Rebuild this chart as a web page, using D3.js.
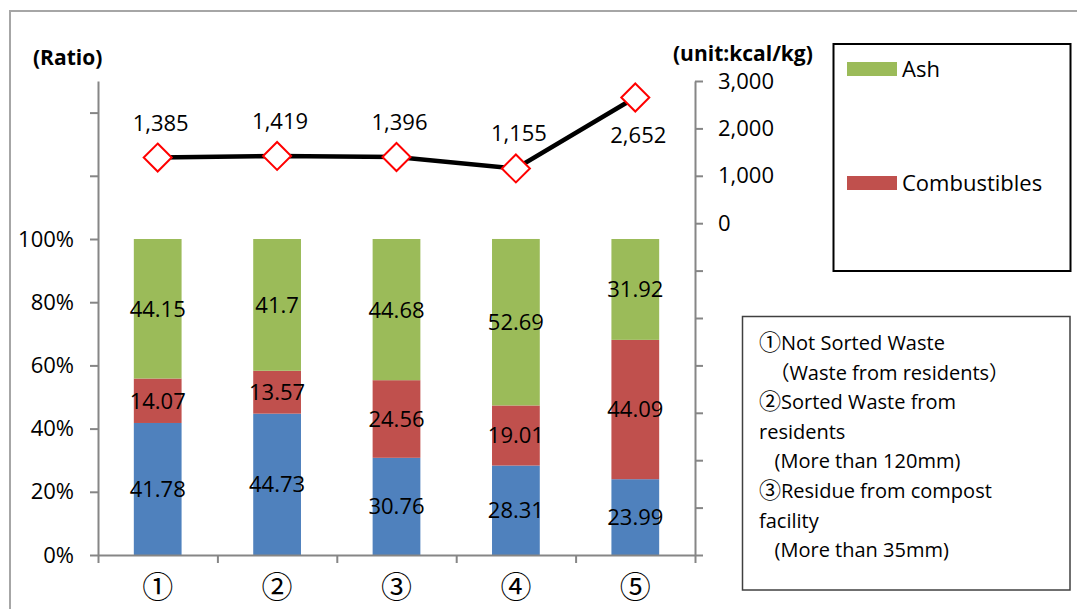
<!DOCTYPE html>
<html>
<head>
<meta charset="utf-8">
<script src="https://cdn.jsdelivr.net/npm/d3@7/dist/d3.min.js"></script>
<style>
  html, body { margin: 0; padding: 0; background: #fff; }
  svg { display: block; font-family: "Open Sans", "Noto Sans CJK JP", sans-serif; }
</style>
</head>
<body>
<svg id="chart" width="1077" height="609"></svg>
<script>
// Sample categories
const categories = ["①", "②", "③", "④", "⑤"];
// Composition (%) of each sample
const ashPct = [44.15, 41.7, 44.68, 52.69, 31.92];
const combustiblePct = [14.07, 13.57, 24.56, 19.01, 44.09];
const moisturePct = [41.78, 44.73, 30.76, 28.31, 23.99];
// Heating value (kcal/kg)
const calorific = [1385, 1419, 1396, 1155, 2652];
// Axis ticks
const ratioTicks = [0, 0.2, 0.4, 0.6, 0.8, 1.0, 1.2, 1.4];
const kcalTicks = [-7000, -6000, -5000, -4000, -3000, -2000, -1000, 0, 1000, 2000, 3000];
// Notes box lines
const noteLines = [
  "①Not Sorted Waste",
  "  （Waste from residents）",
  "②Sorted Waste from",
  "residents",
  "   (More than 120mm)",
  "③Residue from compost",
  "facility",
  "   (More than 35mm)"
];

const colors = { moisture: "#4F81BD", comb: "#C0504D", ash: "#9BBB59" };
const axisColor = "#868686";
const circled = /^[①②③④⑤]/;

const svg = d3.select("#chart");

// outer frame
svg.append("line").attr("x1", 10).attr("x2", 1077).attr("y1", 11).attr("y2", 11)
  .attr("stroke", "#a6a6a6").attr("stroke-width", 2);
svg.append("line").attr("x1", 10).attr("x2", 10).attr("y1", 10).attr("y2", 609)
  .attr("stroke", "#a6a6a6").attr("stroke-width", 2);

const plotL = 98, plotR = 695, plotT = 81, plotB = 555;

const x = d3.scaleBand().domain(categories).range([plotL, plotR])
  .paddingInner(0.6).paddingOuter(0.3);
const yL = d3.scaleLinear().domain([0, 1.5]).range([plotB, plotT]);
const yR = d3.scaleLinear().domain([-7000, 3000]).range([plotB, plotT]);
const xEdges = d3.scaleLinear().domain([0, categories.length]).range([plotL, plotR]);

// stacked bars
const rows = categories.map((c, i) => ({
  cat: c,
  segs: [
    { key: "moisture", v: moisturePct[i] },
    { key: "comb", v: combustiblePct[i] },
    { key: "ash", v: ashPct[i] }
  ]
}));
rows.forEach(r => {
  let acc = 0;
  r.segs.forEach(s => { s.y0 = acc; acc += s.v; s.y1 = acc; });
});

const barG = svg.append("g");
rows.forEach(r => {
  const g = barG.append("g");
  g.selectAll("rect").data(r.segs).join("rect")
    .attr("x", x(r.cat))
    .attr("width", x.bandwidth())
    .attr("y", s => yL(s.y1 / 100))
    .attr("height", s => yL(s.y0 / 100) - yL(s.y1 / 100))
    .attr("fill", s => colors[s.key]);
  g.selectAll("text").data(r.segs).join("text")
    .attr("x", x(r.cat) + x.bandwidth() / 2)
    .attr("y", s => yL((s.y0 + s.y1) / 200))
    .attr("dy", "0.36em")
    .attr("text-anchor", "middle")
    .attr("font-size", 22)
    .attr("fill", "#000")
    .text(s => String(s.v));
});

function styleAxis(g) {
  g.selectAll(".domain").attr("stroke", axisColor).attr("stroke-width", 2);
  g.selectAll(".tick line").attr("stroke", axisColor).attr("stroke-width", 2);
  g.selectAll(".tick text").attr("fill", "#000").attr("font-size", 22)
    .attr("font-family", "\"Open Sans\", \"Noto Sans CJK JP\", sans-serif");
}

// left axis (ratio)
svg.append("g").attr("transform", `translate(${plotL},0)`)
  .call(d3.axisLeft(yL).tickValues(ratioTicks).tickSize(8).tickSizeOuter(0)
    .tickPadding(16)
    .tickFormat(d => d <= 1.0001 ? Math.round(d * 100) + "%" : ""))
  .call(styleAxis);

// right axis (kcal/kg)
svg.append("g").attr("transform", `translate(${plotR},0)`)
  .call(d3.axisRight(yR).tickValues(kcalTicks).tickSize(8).tickSizeOuter(0)
    .tickPadding(15)
    .tickFormat(d => d >= 0 ? d3.format(",")(d) : ""))
  .call(styleAxis);

// bottom axis: category edges
svg.append("g").attr("transform", `translate(0,${plotB})`)
  .call(d3.axisBottom(xEdges).ticks(categories.length).tickSize(8).tickSizeOuter(0)
    .tickFormat(() => ""))
  .call(styleAxis);

// category labels
svg.append("g").attr("transform", `translate(0,${plotB})`)
  .call(d3.axisBottom(x).tickSize(0).tickPadding(21))
  .call(g => g.select(".domain").remove())
  .call(g => g.selectAll(".tick text").attr("font-size", 31).attr("fill", "#000")
    .attr("font-family", "\"Noto Sans CJK JP\", sans-serif").attr("font-weight", 400));

// heating value line
const pts = categories.map((c, i) => ({ c, v: calorific[i] }));
svg.append("path")
  .datum(pts)
  .attr("fill", "none")
  .attr("stroke", "#000")
  .attr("stroke-width", 4.5)
  .attr("d", d3.line().x(d => x(d.c) + x.bandwidth() / 2).y(d => yR(d.v)));

svg.append("g").selectAll("path").data(pts).join("path")
  .attr("transform", d => `translate(${x(d.c) + x.bandwidth() / 2},${yR(d.v)})`)
  .attr("d", "M0,-14L14,0L0,14L-14,0Z")
  .attr("fill", "#fff")
  .attr("stroke", "#FF0000")
  .attr("stroke-width", 2);

// value labels: above the marker, or below when the point sits near the top
svg.append("g").selectAll("text").data(pts).join("text")
  .attr("x", d => x(d.c) + x.bandwidth() / 2 + 3)
  .attr("y", d => yR(d.v) > 130 ? yR(d.v) - 27 : yR(d.v) + 46)
  .attr("text-anchor", "middle")
  .attr("font-size", 22)
  .attr("fill", "#000")
  .text(d => d3.format(",")(d.v));

// axis titles
svg.append("text").attr("x", 33).attr("y", 65).attr("font-size", 21)
  .attr("font-weight", "bold").text("(Ratio)");
svg.append("text").attr("x", 673).attr("y", 61).attr("font-size", 21)
  .attr("font-weight", "bold").text("(unit:kcal/kg)");

// legend
const legend = svg.append("g");
legend.append("rect").attr("x", 833.5).attr("y", 44).attr("width", 237).attr("height", 227)
  .attr("fill", "#fff").attr("stroke", "#000").attr("stroke-width", 2);
const legendItems = [
  { label: "Ash", key: "ash", y: 69 },
  { label: "Combustibles", key: "comb", y: 183 }
];
legendItems.forEach(it => {
  legend.append("rect").attr("x", 847).attr("y", it.y - 7).attr("width", 50).attr("height", 14)
    .attr("fill", colors[it.key]);
  legend.append("text").attr("x", 902).attr("y", it.y + 8).attr("font-size", 22)
    .attr("fill", "#000").text(it.label);
});

// notes box
const notes = svg.append("g");
notes.append("rect").attr("x", 742.5).attr("y", 316.5).attr("width", 327.5).attr("height", 273.5)
  .attr("fill", "#fff").attr("stroke", "#404040").attr("stroke-width", 1.5);
notes.selectAll("text").data(noteLines).join("text")
  .attr("x", 759)
  .attr("y", (d, i) => 350 + i * 29.6)
  .attr("font-size", 20)
  .attr("fill", "#000")
  .attr("xml:space", "preserve")
  .style("white-space", "pre")
  .each(function (d) {
    const t = d3.select(this);
    if (circled.test(d)) {
      t.append("tspan").attr("font-size", 22)
        .attr("font-family", "\"Noto Sans CJK JP\", sans-serif")
        .text(d.charAt(0));
      t.append("tspan").text(d.slice(1));
    } else {
      t.text(d);
    }
  });
</script>
</body>
</html>
